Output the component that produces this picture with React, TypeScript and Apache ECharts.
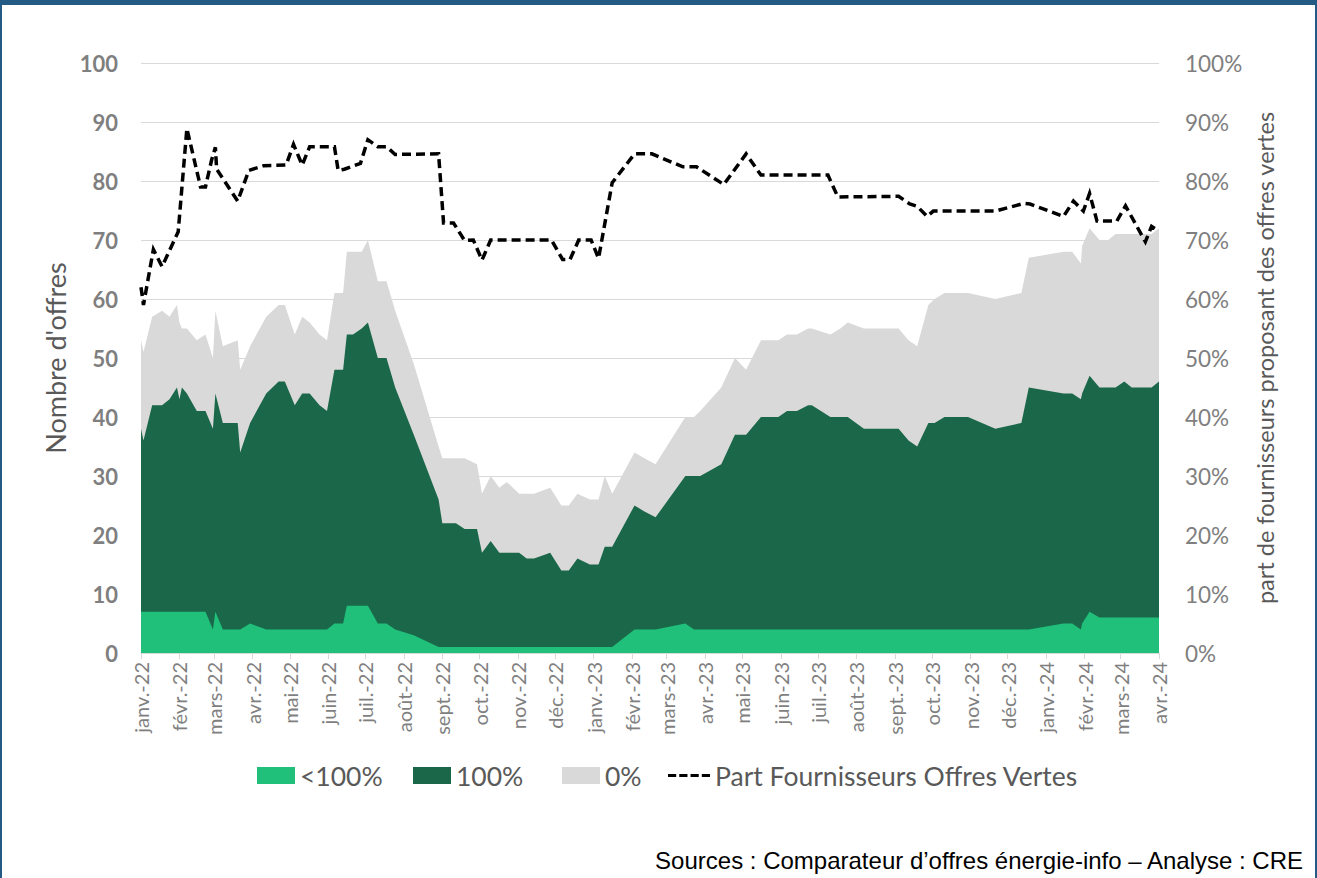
import React, { useEffect, useRef } from "react";
import * as echarts from "echarts";

// Stacked areas (number of offers) — common dates
const dates = [
  "2022-01-01","2022-01-03","2022-01-10","2022-01-18","2022-01-24","2022-01-30","2022-02-01","2022-02-03",
  "2022-02-07","2022-02-15","2022-02-22","2022-02-28","2022-03-02","2022-03-08","2022-03-20","2022-03-22",
  "2022-03-30","2022-04-12","2022-04-22","2022-04-27","2022-05-05","2022-05-11","2022-05-17","2022-05-25",
  "2022-05-31","2022-06-06","2022-06-13","2022-06-16","2022-06-21","2022-06-28","2022-07-03","2022-07-11",
  "2022-07-18","2022-07-25","2022-08-09","2022-08-29","2022-09-01","2022-09-12","2022-09-19","2022-09-29",
  "2022-10-03","2022-10-10","2022-10-17","2022-10-23","2022-11-02","2022-11-08","2022-11-14","2022-11-27",
  "2022-12-06","2022-12-12","2022-12-19","2022-12-29","2023-01-05","2023-01-10","2023-01-16","2023-02-03",
  "2023-02-11","2023-02-20","2023-03-16","2023-03-23","2023-03-28","2023-04-14","2023-04-25","2023-05-04",
  "2023-05-16","2023-05-30","2023-06-06","2023-06-14","2023-06-23","2023-06-26","2023-07-11","2023-07-19",
  "2023-07-25","2023-08-07","2023-09-04","2023-09-12","2023-09-19","2023-09-28","2023-10-03","2023-10-11",
  "2023-10-30","2023-11-21","2023-12-12","2023-12-18","2024-01-15","2024-01-22","2024-01-29","2024-01-30",
  "2024-02-05","2024-02-13","2024-02-20","2024-02-26","2024-03-04","2024-03-10","2024-03-26","2024-04-01",
];
// offers with < 100% green energy
const lt100 = [
  7,7,7,7,7,7,7,7, 7,7,7,4,7,4,4,4, 5,4,4,4,4,4,4,4, 4,5,5,8,8,8,8,5,
  5,4,3,1,1,1,1,1, 1,1,1,1,1,1,1,1, 1,1,1,1,1,1,1,4, 4,4,5,4,4,4,4,4,
  4,4,4,4,4,4,4,4, 4,4,4,4,4,4,4,4, 4,4,4,4,5,5,4,5, 7,6,6,6,6,6,6,6,
];
// offers with 100% green energy
const full100 = [
  31,29,35,35,36,38,36,38, 37,34,34,34,37,35,35,30, 34,40,42,42,38,40,40,38, 37,43,43,46,46,47,48,45,
  45,41,34,25,21,21,20,20, 16,18,16,16,16,15,15,16, 13,13,15,14,14,17,17,21, 20,19,25,26,26,28,33,33,
  36,36,37,37,38,38,36,36, 36,34,34,32,31,35,35,36, 36,34,35,41,39,39,39,39, 40,39,39,39,40,39,39,40,
];
// offers with 0% green energy
const zeroPct = [
  15,15,15,16,14,14,13,10, 11,12,13,12,14,13,14,14, 13,13,13,13,12,13,12,12, 12,13,13,14,14,13,14,13,
  13,13,12,9,11,11,12,11, 10,11,11,12,10,11,11,11, 11,11,11,11,11,12,9,9, 9,9,10,10,11,13,13,11,
  13,13,13,13,13,13,14,15, 16,17,17,17,17,20,21,21, 21,22,22,22,24,24,23,25, 25,25,25,26,25,26,26,26,
];

// Share of suppliers offering green offers (%)
const lineDates = [
  "2022-01-01","2022-01-03","2022-01-11","2022-01-18","2022-01-31","2022-02-07","2022-02-18","2022-02-22",
  "2022-02-27","2022-03-02","2022-03-03","2022-03-20","2022-03-29","2022-04-10","2022-04-28","2022-05-04",
  "2022-05-11","2022-05-17","2022-06-06","2022-06-09","2022-06-14","2022-06-27","2022-07-03","2022-07-11",
  "2022-07-18","2022-07-25","2022-08-29","2022-09-02","2022-09-10","2022-09-19","2022-09-26","2022-10-03",
  "2022-10-10","2022-11-28","2022-12-07","2022-12-13","2022-12-20","2022-12-30","2023-01-05","2023-01-16",
  "2023-02-03","2023-02-17","2023-03-14","2023-03-25","2023-04-16","2023-05-04","2023-05-16","2023-07-09",
  "2023-07-17","2023-09-04","2023-09-13","2023-09-19","2023-09-27","2023-10-02","2023-11-21","2023-12-14",
  "2023-12-19","2024-01-15","2024-01-23","2024-01-31","2024-02-05","2024-02-11","2024-02-27","2024-03-05",
  "2024-03-21","2024-03-26","2024-04-01",
];
const lineShare = [
  62,59,68.4,65.5,71.4,88.9,79,79, 83.6,85.7,82,76.6,81.8,82.6,82.7,86.2,
  82.7,85.8,85.8,81.8,82,83,87,85.8, 85.8,84.5,84.6,72.9,72.9,69.9,70,66.6,
  70,70,66.7,66.7,70,70,66.9,79.7, 84.6,84.6,82.4,82.4,79.4,84.6,81,81,
  77.3,77.4,76.1,75.7,74,74.9,74.9,76.2, 76.1,74,76.6,74.9,77.9,73.2,73.2,75.8,
  69.7,72.3,71.5,
];

const monthLabels = [
  "janv.-22","févr.-22","mars-22","avr.-22","mai-22","juin-22","juil.-22","août-22","sept.-22","oct.-22","nov.-22","déc.-22",
  "janv.-23","févr.-23","mars-23","avr.-23","mai-23","juin-23","juil.-23","août-23","sept.-23","oct.-23","nov.-23","déc.-23",
  "janv.-24","févr.-24","mars-24","avr.-24",
];

const BASE = Date.UTC(2022, 0, 1);
const DAY = 86400000;
const toDay = (s: string) =>
  (Date.UTC(+s.slice(0, 4), +s.slice(5, 7) - 1, +s.slice(8, 10)) - BASE) / DAY;
const monthDays = monthLabels.map((_, i) => (Date.UTC(2022, i, 1) - BASE) / DAY);

const FONT = "Lato";
const C_LT = "#20C07A";
const C_FULL = "#1A6749";
const C_ZERO = "#D9D9D9";

export default function App() {
  const ref = useRef<HTMLDivElement>(null);
  useEffect(() => {
    const chart = echarts.init(ref.current!, null, { renderer: "svg" });
    // cumulative tops for layered (stacked-looking) areas
    const topLt = lt100.map((v) => v);
    const topFull = lt100.map((v, i) => v + full100[i]);
    const topZero = lt100.map((v, i) => v + full100[i] + zeroPct[i]);
    const areaSeries = (name: string, vals: number[], color: string, z: number) => ({
      name,
      type: "line",
      data: dates.map((d, i) => [toDay(d), vals[i]]),
      symbol: "none",
      showSymbol: false,
      color,
      lineStyle: { width: 0, color },
      itemStyle: { color },
      areaStyle: { color, opacity: 1 },
      z,
    });
    const legendBase = {
      top: 757,
      itemWidth: 38,
      itemHeight: 17,
      textStyle: { fontSize: 26.5, color: "#595959", fontFamily: FONT },
    };
    chart.setOption({
      animation: false,
      backgroundColor: "#ffffff",
      textStyle: { fontFamily: FONT },
      grid: { left: 141, right: 158, top: 63, height: 590 },
      legend: [
        { ...legendBase, left: 252, data: [{ name: "<100%", icon: "rect" }] },
        { ...legendBase, left: 408, data: [{ name: "100%", icon: "rect" }] },
        { ...legendBase, left: 557, data: [{ name: "0%", icon: "rect" }] },
        {
          ...legendBase,
          left: 663,
          itemWidth: 42,
          data: [
            {
              name: "Part Fournisseurs Offres Vertes",
              icon: "path://M0,0h8v3h-8zM11,0h8v3h-8zM22,0h8v3h-8zM33,0h8v3h-8z",
              itemStyle: { color: "#000000" },
            },
          ],
        },
      ],
      xAxis: {
        type: "value",
        min: 0,
        max: monthDays[monthDays.length - 1],
        splitLine: { show: false },
        axisLine: { show: true, lineStyle: { color: "#D9D9D9", width: 1 } },
        axisTick: {
          show: true,
          length: 6,
          customValues: monthDays,
          lineStyle: { color: "#D9D9D9" },
        },
        axisLabel: {
          customValues: monthDays,
          rotate: 90,
          margin: 9,
          fontSize: 20,
          color: "#7F7F7F",
          fontFamily: FONT,
          formatter: (v: number) => {
            const i = monthDays.findIndex((m) => Math.abs(m - v) < 0.5);
            return i >= 0 ? monthLabels[i] : "";
          },
        },
      },
      yAxis: [
        {
          type: "value",
          min: 0,
          max: 100,
          interval: 10,
          name: "Nombre d'offres",
          nameLocation: "middle",
          nameRotate: 90,
          nameGap: 68,
          nameTextStyle: { fontSize: 27, color: "#595959", fontFamily: FONT },
          axisLine: { show: false },
          axisTick: { show: false },
          splitLine: { lineStyle: { color: "#D9D9D9", width: 1 } },
          axisLabel: { fontSize: 22, fontWeight: "bold", color: "#7F7F7F", margin: 23, fontFamily: FONT },
        },
        {
          type: "value",
          min: 0,
          max: 100,
          interval: 10,
          position: "right",
          name: "part de fournisseurs proposant des offres vertes",
          nameLocation: "middle",
          nameRotate: 90,
          nameGap: 92,
          nameTextStyle: { fontSize: 23.5, color: "#595959", fontFamily: FONT },
          axisLine: { show: false },
          axisTick: { show: false },
          splitLine: { show: false },
          axisLabel: { fontSize: 22.5, color: "#7F7F7F", margin: 26, formatter: "{value}%", fontFamily: FONT },
        },
      ],
      series: [
        areaSeries("0%", topZero, C_ZERO, 1),
        areaSeries("100%", topFull, C_FULL, 2),
        areaSeries("<100%", topLt, C_LT, 3),
        {
          name: "Part Fournisseurs Offres Vertes",
          type: "line",
          yAxisIndex: 1,
          data: lineDates.map((d, i) => [toDay(d), lineShare[i]]),
          symbol: "none",
          showSymbol: false,
          color: "#000000",
          lineStyle: { color: "#000000", width: 3.5, type: [9, 5], cap: "butt", join: "miter" },
          z: 5,
        },
      ],
      graphic: [
        { type: "rect", shape: { x: 0, y: 0, width: 1317, height: 5 }, style: { fill: "#245B85" }, z: 10 },
        { type: "rect", shape: { x: 0, y: 0, width: 2, height: 878 }, style: { fill: "#245B85" }, z: 10 },
        { type: "rect", shape: { x: 1315, y: 0, width: 2, height: 878 }, style: { fill: "#245B85" }, z: 10 },
        {
          type: "text",
          x: 1303,
          y: 860,
          style: {
            text: "Sources : Comparateur d’offres énergie-info – Analyse : CRE",
            fontFamily: "Liberation Sans",
            fontSize: 24,
            fill: "#000000",
            align: "right",
            verticalAlign: "middle",
          },
          z: 10,
        },
      ],
    });
    return () => chart.dispose();
  }, []);
  return (
    <div
      ref={ref}
      style={{ position: "absolute", left: 0, top: 0, width: 1317, height: 878, background: "#fff" }}
    />
  );
}
